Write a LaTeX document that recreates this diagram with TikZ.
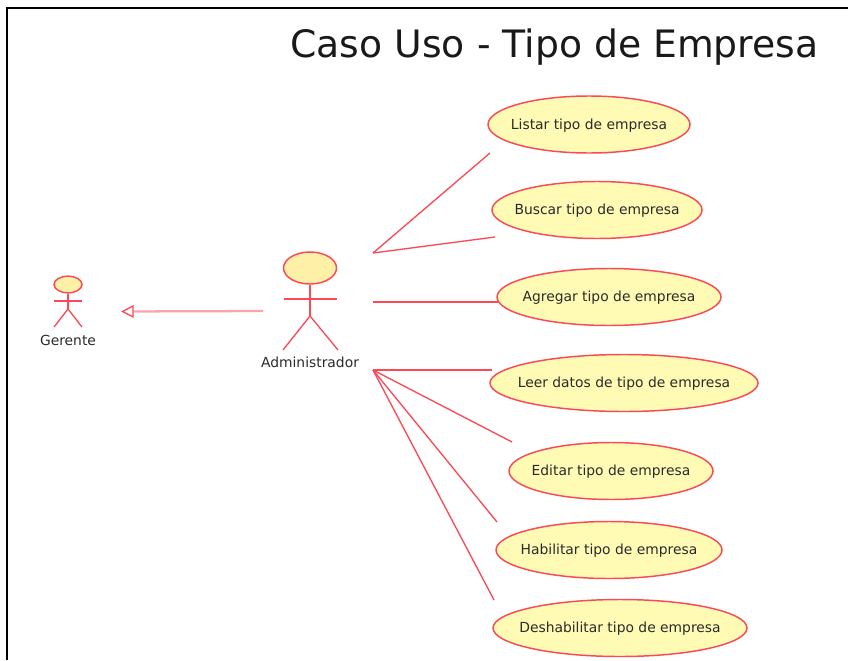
\documentclass[tikz,border=0pt]{standalone}
\usepackage{fontspec}
\setmainfont{DejaVu Sans}
\usetikzlibrary{arrows.meta,shapes.geometric}
\definecolor{uRed}{HTML}{FB4A55}
\definecolor{uYellow}{HTML}{FFFBB4}
\definecolor{uHead}{HTML}{FFF0A8}
\definecolor{uText}{HTML}{2A2A2A}

\begin{document}
\begin{tikzpicture}[x=0.75pt,y=-0.75pt,>=latex]
	\tikzstyle{FRAME} = [black, line width=1.3pt]
	\tikzstyle{usecase} = [ellipse, draw=uRed, fill=uYellow, line width=1.1pt, inner xsep=-30pt, inner ysep=0pt, minimum height=42.75pt, text height=9.4pt, text depth=2.5pt, text=uText, font=\fontsize{10.4}{12}\selectfont]
	\tikzstyle{actorhead} = [ellipse, draw=uRed, fill=uHead, line width=1.1pt, inner sep=0pt]
	\tikzstyle{limb} = [draw=uRed, line width=1pt]
	\tikzstyle{link} = [draw=uRed, line width=1pt]
	\tikzstyle{actorname} = [text=uText, font=\fontsize{10.4}{12}\selectfont]
	\useasboundingbox (0,0) rectangle (848,660);

	\coordinate (fTop) at (848,7.8);
	\coordinate (fCor) at (6.8,7.8);
	\coordinate (fBot) at (6.8,660);
	\draw[FRAME] (fTop) -- (fCor) -- (fBot);
	\node[text=black!90, font=\fontsize{28.3}{32}\selectfont] (title) at (554.5,47.5) {Caso Uso - Tipo de Empresa};

	% use cases
	\node[usecase, minimum width=151.5pt] (uList) at (589,124.5) {Listar tipo de empresa};
	\node[usecase, minimum width=157.5pt] (uBusc) at (597,210) {Buscar tipo de empresa};
	\node[usecase, minimum width=168pt] (uAgre) at (609,297) {Agregar tipo de empresa};
	\node[usecase, minimum width=201pt] (uLeer) at (624,383) {Leer datos de tipo de empresa};
	\node[usecase, minimum width=153pt] (uEdit) at (611,471) {Editar tipo de empresa};
	\node[usecase, minimum width=169.5pt] (uHabi) at (609,550) {Habilitar tipo de empresa};
	\node[usecase, minimum width=190.5pt] (uDesh) at (620,628) {Deshabilitar tipo de empresa};

	% actors
	\node[actorhead, minimum width=39.75pt, minimum height=24pt] (hAdmi) at (310,268) {};
	\coordinate (aHip) at (310,316);
	\coordinate (aArmL) at (284,299);
	\coordinate (aArmR) at (337,299);
	\coordinate (aLegL) at (283,350);
	\coordinate (aLegR) at (338,350);
	\draw[limb] (hAdmi.south) -- (aHip);
	\draw[limb] (aArmL) -- (aArmR);
	\draw[limb] (aLegL) -- (aHip) -- (aLegR);
	\node[actorname] (nAdmi) at (310,362.5) {Administrador};

	\node[actorhead, minimum width=21pt, minimum height=12.5pt] (hGere) at (68,284.5) {};
	\coordinate (gHip) at (68,309);
	\coordinate (gArmL) at (54,301);
	\coordinate (gArmR) at (82,301);
	\coordinate (gLegL) at (54,327);
	\coordinate (gLegR) at (82,327);
	\draw[limb] (hGere.south) -- (gHip);
	\draw[limb] (gArmL) -- (gArmR);
	\draw[limb] (gLegL) -- (gHip) -- (gLegR);
	\node[actorname] (nGere) at (68,340) {Gerente};

	% links
	\coordinate (aTop) at (373,253);
	\coordinate (aMid) at (373,302);
	\coordinate (aLow) at (373,370);
	\coordinate (eList) at (490,153);
	\coordinate (eBusc) at (495,237);
	\coordinate (eAgre) at (498,302);
	\coordinate (eLeer) at (492,370);
	\coordinate (eEdit) at (512,442);
	\coordinate (eHabi) at (497,522);
	\coordinate (eDesh) at (494,600);
	\draw[link] (aTop) -- (eList);
	\draw[link] (aTop) -- (eBusc);
	\draw[link] (aMid) -- (eAgre);
	\draw[link] (aLow) -- (eLeer);
	\draw[link] (aLow) -- (eEdit);
	\draw[link] (aLow) -- (eHabi);
	\draw[link] (aLow) -- (eDesh);

	\coordinate (gFrom) at (263,311);
	\coordinate (gTo) at (121,311.5);
	\draw[-{Triangle[open,length=9.5pt,width=9.5pt,line width=1pt,color=uRed]}, draw=uRed!50, line width=1.7pt] (gFrom) -- (gTo);
\end{tikzpicture}
\end{document}
